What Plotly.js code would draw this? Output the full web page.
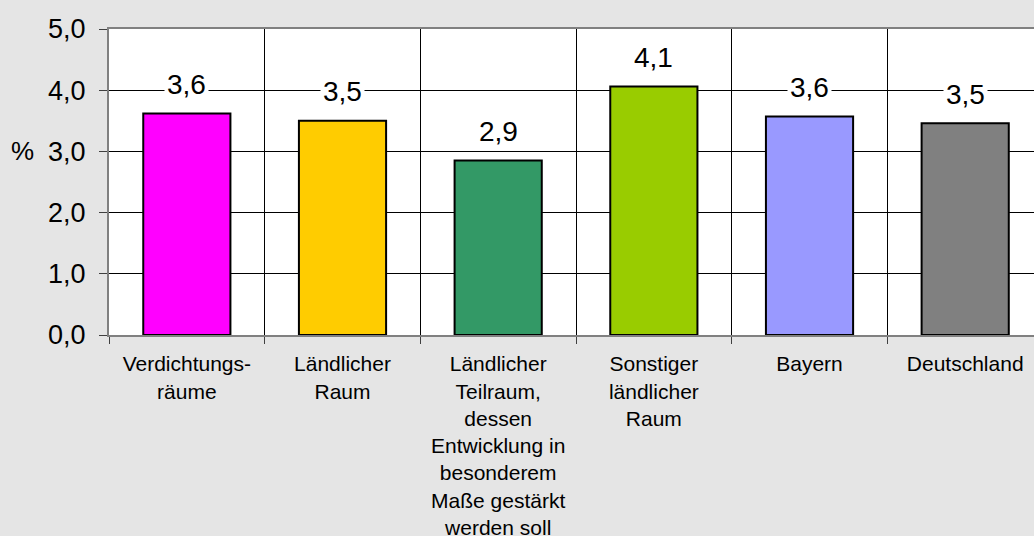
<!DOCTYPE html>
<html>
<head>
<meta charset="utf-8">
<script src="https://cdn.plot.ly/plotly-3.0.1.min.js"></script>
<style>html,body{margin:0;padding:0;background:#e5e5e5;}#chart{width:1034px;height:536px;}</style>
</head>
<body>
<div id="chart"></div>
<script>
const categories = [
  "Verdichtungs-<br>räume",
  "Ländlicher<br>Raum",
  "Ländlicher<br>Teilraum,<br>dessen<br>Entwicklung in<br>besonderem<br>Maße gestärkt<br>werden soll",
  "Sonstiger<br>ländlicher<br>Raum",
  "Bayern",
  "Deutschland"
];
const values = [3.62, 3.50, 2.85, 4.06, 3.57, 3.46];
const valueLabels = ["3,6", "3,5", "2,9", "4,1", "3,6", "3,5"];
const barColors = ["#ff00ff", "#ffcc00", "#339966", "#99cc00", "#9999ff", "#808080"];
const yTickVals = [0, 1, 2, 3, 4, 5];
const yTickText = ["0,0", "1,0", "2,0", "3,0", "4,0", "5,0"];

const font = "Liberation Sans, Arial, sans-serif";

const trace = {
  type: "bar",
  x: categories,
  y: values,
  width: 0.56,
  marker: {color: barColors, line: {color: "#000000", width: 2}},
  hoverinfo: "skip"
};

const annotations = categories.map((c, i) => ({
  x: c, y: values[i], xref: "x", yref: "y",
  text: valueLabels[i], showarrow: false,
  yanchor: "middle", yshift: 29,
  bgcolor: "#ffffff", borderpad: 2,
  font: {family: font, size: 28, color: "#000"}
}));
annotations.push({
  xref: "paper", yref: "y", x: -0.094, y: 3, text: "%", showarrow: false,
  xanchor: "center", yanchor: "middle",
  font: {family: font, size: 26, color: "#000"}
});

const layout = {
  width: 1034, height: 536,
  paper_bgcolor: "#e5e5e5", plot_bgcolor: "#ffffff",
  margin: {l: 109, r: 0, t: 29, b: 201, pad: 0},
  showlegend: false,
  separators: ", ",
  font: {family: font, color: "#000"},
  xaxis: {
    type: "category",
    range: [-0.5, 5.442],
    tickson: "boundaries",
    showgrid: true, gridcolor: "#000000", gridwidth: 1,
    ticks: "outside", ticklen: 7, tickcolor: "#404040", tickwidth: 1,
    showline: true, linecolor: "#808080", linewidth: 2, mirror: true,
    tickfont: {family: font, size: 21, color: "#000"},
    ticklabelstandoff: 9,
    fixedrange: true
  },
  yaxis: {
    range: [0, 5],
    tickvals: yTickVals, ticktext: yTickText,
    showgrid: true, gridcolor: "#000000", gridwidth: 1,
    zeroline: false,
    ticks: "outside", ticklen: 8, tickcolor: "#404040", tickwidth: 1,
    showline: true, linecolor: "#808080", linewidth: 2,
    tickfont: {family: font, size: 27, color: "#000"},
    ticklabelstandoff: 8,
    fixedrange: true
  },
  annotations: annotations
};

Plotly.newPlot("chart", [trace], layout, {displayModeBar: false, staticPlot: true});
</script>
</body>
</html>
